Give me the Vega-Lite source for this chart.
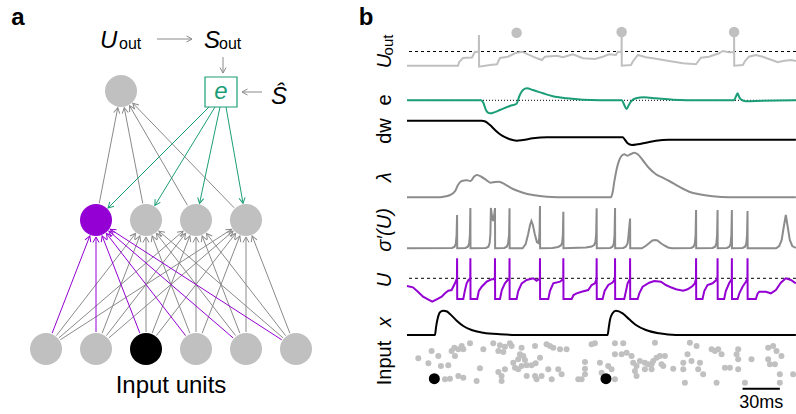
{
"$schema":"https://vega.github.io/schema/vega-lite/v6.json",
"padding":0,
"background":"white",
"spacing":0,
"bounds":"flush",
"config":{"view":{"stroke":null},"axis":{"disable":true},"legend":{"disable":true},"font":"Liberation Sans"},
"datasets":{
"nodes":[{"x":121,"y":91,"state":"idle"},{"x":96,"y":220,"state":"focus"},{"x":146,"y":220,"state":"idle"},{"x":196,"y":220,"state":"idle"},{"x":246,"y":220,"state":"idle"},{"x":46,"y":349,"state":"idle"},{"x":96,"y":349,"state":"idle"},{"x":146,"y":349,"state":"active"},{"x":196,"y":349,"state":"idle"},{"x":246,"y":349,"state":"idle"},{"x":296,"y":349,"state":"idle"}],
"edges":[
{"x1":96,"y1":220,"x2":121,"y2":91,"type":"plain"},{"x1":146,"y1":220,"x2":121,"y2":91,"type":"plain"},{"x1":196,"y1":220,"x2":121,"y2":91,"type":"plain"},{"x1":246,"y1":220,"x2":121,"y2":91,"type":"plain"},
{"x1":46,"y1":349,"x2":146,"y2":220,"type":"plain"},{"x1":46,"y1":349,"x2":196,"y2":220,"type":"plain"},{"x1":46,"y1":349,"x2":246,"y2":220,"type":"plain"},
{"x1":96,"y1":349,"x2":146,"y2":220,"type":"plain"},{"x1":96,"y1":349,"x2":196,"y2":220,"type":"plain"},{"x1":96,"y1":349,"x2":246,"y2":220,"type":"plain"},
{"x1":146,"y1":349,"x2":146,"y2":220,"type":"plain"},{"x1":146,"y1":349,"x2":196,"y2":220,"type":"plain"},{"x1":146,"y1":349,"x2":246,"y2":220,"type":"plain"},
{"x1":196,"y1":349,"x2":146,"y2":220,"type":"plain"},{"x1":196,"y1":349,"x2":196,"y2":220,"type":"plain"},{"x1":196,"y1":349,"x2":246,"y2":220,"type":"plain"},
{"x1":246,"y1":349,"x2":146,"y2":220,"type":"plain"},{"x1":246,"y1":349,"x2":196,"y2":220,"type":"plain"},{"x1":246,"y1":349,"x2":246,"y2":220,"type":"plain"},
{"x1":296,"y1":349,"x2":146,"y2":220,"type":"plain"},{"x1":296,"y1":349,"x2":196,"y2":220,"type":"plain"},{"x1":296,"y1":349,"x2":246,"y2":220,"type":"plain"},
{"x1":46,"y1":349,"x2":96,"y2":220,"type":"focus"},{"x1":96,"y1":349,"x2":96,"y2":220,"type":"focus"},{"x1":146,"y1":349,"x2":96,"y2":220,"type":"focus"},{"x1":196,"y1":349,"x2":96,"y2":220,"type":"focus"},{"x1":246,"y1":349,"x2":96,"y2":220,"type":"focus"},{"x1":296,"y1":349,"x2":96,"y2":220,"type":"focus"},
{"x1":209,"y1":107,"x2":96,"y2":220,"type":"error"},{"x1":215,"y1":107,"x2":146,"y2":220,"type":"error"},{"x1":220,"y1":107,"x2":196,"y2":220,"type":"error"},{"x1":226,"y1":107,"x2":246,"y2":220,"type":"error"},
{"x1":157,"y1":39,"x2":192,"y2":39,"type":"annot"},{"x1":223,"y1":57,"x2":223,"y2":73,"type":"annot"},{"x1":262,"y1":92,"x2":242,"y2":92,"type":"annot"}],
"box":[{"x":205,"y":77,"x2":237,"y2":107}],
"texts":[
{"role":"panel","x":18,"y":18,"text":"a"},{"role":"panel","x":366,"y":18,"text":"b"},
{"role":"math","x":100,"y":48,"text":"U"},{"role":"sub","x":119,"y":49,"text":"out"},
{"role":"math","x":204,"y":48,"text":"S"},{"role":"sub","x":219,"y":49,"text":"out"},
{"role":"math","x":271,"y":104,"text":"Ŝ"},
{"role":"err","x":221,"y":99,"text":"e"},
{"role":"caption","x":171,"y":393,"text":"Input units"},
{"role":"rot","x":385,"y":100,"text":"e"},{"role":"rot","x":385,"y":131,"text":"dw"},{"role":"rot","x":385,"y":363,"text":"Input"},
{"role":"rotMath","x":385,"y":61,"text":"U"},{"role":"rotMath","x":385,"y":177,"text":"λ"},{"role":"rotMath","x":385,"y":230,"text":"σ′(U)"},{"role":"rotMath","x":385,"y":280,"text":"U"},{"role":"rotMath","x":385,"y":322,"text":"x"},
{"role":"rotSub","x":388,"y":45,"text":"out"}],
"uout":[{"t":0,"v":4.3},{"t":41,"v":4.3},{"t":42,"v":8},{"t":45,"v":12},{"t":52.3,"v":12.5},{"t":54.7,"v":18.3},{"t":57.8,"v":18},{"t":57.9,"v":35},{"t":58,"v":3.3},{"t":66.8,"v":5},{"t":72.4,"v":5.7},{"t":74.8,"v":12},{"t":81.2,"v":13.3},{"t":86.9,"v":16.7},{"t":92.5,"v":18.3},{"t":104.6,"v":11.7},{"t":108.6,"v":10},{"t":111,"v":13.3},{"t":120.6,"v":14.3},{"t":125.5,"v":12.7},{"t":129.5,"v":14.3},{"t":133.5,"v":15.7},{"t":141.6,"v":11.7},{"t":151.2,"v":11},{"t":157.6,"v":13.3},{"t":162.5,"v":15.7},{"t":168.1,"v":15},{"t":169.7,"v":18.3},{"t":172.6,"v":18},{"t":172.7,"v":37},{"t":172.8,"v":4.3},{"t":180.2,"v":5},{"t":182,"v":9},{"t":185.8,"v":15},{"t":192.3,"v":12.7},{"t":197.9,"v":11.7},{"t":210.8,"v":9},{"t":222.1,"v":6.7},{"t":232.5,"v":5.7},{"t":236.5,"v":12.3},{"t":243,"v":13.3},{"t":247,"v":15},{"t":251,"v":16.7},{"t":254.2,"v":19},{"t":259,"v":17.7},{"t":263.1,"v":18},{"t":263.2,"v":37},{"t":263.3,"v":4.3},{"t":270.2,"v":5},{"t":272,"v":9},{"t":275.1,"v":13.3},{"t":280.7,"v":15},{"t":286.3,"v":13.3},{"t":291.2,"v":11},{"t":298.4,"v":7.7},{"t":302.4,"v":9},{"t":308.9,"v":10},{"t":312.9,"v":9}],
"uoutDots":[{"t":88.2,"v":37.3},{"t":172.7,"v":38},{"t":263.2,"v":38}],
"err":[{"t":0,"v":16.7},{"t":59.5,"v":16.7},{"t":61.5,"v":14},{"t":63.5,"v":7},{"t":65.5,"v":4.2},{"t":67.3,"v":3.7},{"t":70,"v":4.6},{"t":74.8,"v":7},{"t":82.8,"v":11},{"t":88.2,"v":13.3},{"t":90.1,"v":20},{"t":93.3,"v":27},{"t":96.5,"v":28.7},{"t":101.3,"v":27},{"t":109.4,"v":23.7},{"t":117.4,"v":20.7},{"t":128.7,"v":18.7},{"t":141.6,"v":17.3},{"t":155.2,"v":16.8},{"t":172.9,"v":16.7},{"t":174.5,"v":13},{"t":176.7,"v":8},{"t":178.5,"v":12},{"t":180.2,"v":15.3},{"t":184.2,"v":18.7},{"t":190.7,"v":19.7},{"t":200.3,"v":18.7},{"t":214,"v":17.3},{"t":235.7,"v":16.7},{"t":263,"v":16.7},{"t":264.5,"v":20},{"t":266,"v":23.7},{"t":267.3,"v":20},{"t":268.6,"v":17.7},{"t":272.7,"v":15.7},{"t":286.3,"v":16.3},{"t":312.9,"v":16.7}],
"dw":[{"t":0,"v":27.3},{"t":60.1,"v":27.3},{"t":63,"v":26.5},{"t":66.8,"v":23},{"t":70.8,"v":18},{"t":74.8,"v":13.7},{"t":78.8,"v":10.8},{"t":82.8,"v":8.7},{"t":88.2,"v":7.3},{"t":93.3,"v":8},{"t":101.3,"v":9.7},{"t":112.6,"v":10.7},{"t":173.5,"v":10.7},{"t":175.5,"v":8},{"t":177.5,"v":4.7},{"t":181,"v":3},{"t":185.6,"v":3.7},{"t":192.2,"v":5.3},{"t":200.3,"v":7.3},{"t":210.7,"v":8.3},{"t":312.9,"v":8.3}],
"lambda":[{"t":0,"v":2.7},{"t":26.5,"v":2.7},{"t":30.6,"v":3.5},{"t":34.6,"v":5},{"t":38.6,"v":8.7},{"t":41,"v":15},{"t":44,"v":19},{"t":48,"v":19.7},{"t":51.2,"v":19},{"t":53.9,"v":23.3},{"t":56.3,"v":25},{"t":60.1,"v":23},{"t":64.1,"v":19.7},{"t":67.3,"v":17.3},{"t":70.8,"v":18},{"t":74,"v":18.3},{"t":78.8,"v":15.7},{"t":85.3,"v":11},{"t":93.3,"v":7.3},{"t":101.3,"v":5},{"t":112.6,"v":3.3},{"t":128.7,"v":2.7},{"t":164.1,"v":2.7},{"t":165.5,"v":8},{"t":166.8,"v":18.3},{"t":169.5,"v":35},{"t":172.1,"v":43.3},{"t":174.8,"v":45.7},{"t":177.5,"v":44.3},{"t":180.2,"v":46},{"t":182.8,"v":47.3},{"t":185.6,"v":45.7},{"t":189.6,"v":40},{"t":194.9,"v":31.7},{"t":200.3,"v":25.7},{"t":205.7,"v":22.3},{"t":211,"v":19},{"t":219,"v":13.3},{"t":227.1,"v":8.3},{"t":235.1,"v":5.7},{"t":245.9,"v":3.7},{"t":259,"v":2.7},{"t":312.9,"v":2.7}],
"sigma":[{"t":0,"v":3.7},{"t":36.3,"v":4},{"t":38.3,"v":5.3},{"t":39.3,"v":8.5},{"t":39.9,"v":17},{"t":40.3,"v":37},{"t":40.4,"v":3.7},{"t":47,"v":4},{"t":49,"v":5.3},{"t":50,"v":8.5},{"t":50.6,"v":17},{"t":51,"v":44},{"t":51.1,"v":3.7},{"t":63.5,"v":4},{"t":65.5,"v":5.3},{"t":66.5,"v":9},{"t":67.1,"v":18},{"t":67.5,"v":44},{"t":68.6,"v":34},{"t":69.2,"v":31},{"t":70.1,"v":36},{"t":70.8,"v":44},{"t":70.9,"v":3.7},{"t":78.3,"v":4},{"t":80.3,"v":5.3},{"t":81.3,"v":8.5},{"t":82.1,"v":17},{"t":82.5,"v":43.7},{"t":82.6,"v":3.7},{"t":93,"v":3.7},{"t":95.5,"v":8},{"t":97.5,"v":18},{"t":99,"v":27},{"t":100.1,"v":31},{"t":101.3,"v":27},{"t":102.8,"v":18},{"t":104.5,"v":10},{"t":105.8,"v":9},{"t":106.4,"v":14},{"t":106.7,"v":22},{"t":107,"v":46},{"t":107.1,"v":3.7},{"t":117,"v":4},{"t":121.6,"v":5},{"t":123.8,"v":6.5},{"t":124.8,"v":9},{"t":125.4,"v":17},{"t":125.8,"v":40.3},{"t":125.9,"v":3.7},{"t":144,"v":4.5},{"t":148.6,"v":5.5},{"t":150.6,"v":7},{"t":151.6,"v":10},{"t":152.2,"v":18},{"t":152.6,"v":43.7},{"t":152.7,"v":3.7},{"t":163.4,"v":4},{"t":165.4,"v":5.3},{"t":166.4,"v":8.5},{"t":167,"v":17},{"t":167.4,"v":44},{"t":167.5,"v":3.7},{"t":174,"v":4},{"t":176,"v":5.3},{"t":177.5,"v":8.5},{"t":178.1,"v":15},{"t":179.5,"v":33.5},{"t":179.6,"v":3.7},{"t":189,"v":3.7},{"t":192,"v":6},{"t":195,"v":9},{"t":197.5,"v":11.5},{"t":199.5,"v":12},{"t":201.5,"v":11.5},{"t":204,"v":9},{"t":207,"v":6.5},{"t":210,"v":4.5},{"t":213,"v":3.7},{"t":228.6,"v":4},{"t":230.6,"v":5.3},{"t":231.6,"v":8.5},{"t":232.2,"v":17},{"t":232.6,"v":42},{"t":232.7,"v":3.7},{"t":245.9,"v":4},{"t":247.9,"v":5.3},{"t":248.9,"v":8.5},{"t":249.5,"v":17},{"t":249.9,"v":42},{"t":250,"v":3.7},{"t":257.4,"v":4},{"t":259.4,"v":5.3},{"t":260.4,"v":8.5},{"t":261,"v":17},{"t":261.4,"v":42},{"t":261.5,"v":3.7},{"t":270,"v":4},{"t":272,"v":5.3},{"t":273,"v":8.5},{"t":273.6,"v":17},{"t":274,"v":41},{"t":274.1,"v":3.7},{"t":297,"v":3.7},{"t":299.5,"v":6},{"t":301.5,"v":12},{"t":303,"v":24},{"t":304.8,"v":37},{"t":306.5,"v":24},{"t":308,"v":12},{"t":310,"v":6},{"t":312.9,"v":4}],
"memb":[{"t":0,"v":17},{"t":4.8,"v":15.7},{"t":8.8,"v":11.3},{"t":12.9,"v":6.3},{"t":16.9,"v":3.7},{"t":20.3,"v":1.3},{"t":23.9,"v":3.7},{"t":27.9,"v":6.3},{"t":30.6,"v":9.7},{"t":33.2,"v":12.3},{"t":35.9,"v":13},{"t":38.6,"v":19.7},{"t":40.2,"v":24.5},{"t":40.3,"v":44.7},{"t":40.4,"v":4},{"t":45.3,"v":4},{"t":46.5,"v":12},{"t":48,"v":19.7},{"t":49.5,"v":23},{"t":50.9,"v":24.5},{"t":51,"v":44.7},{"t":51.1,"v":4},{"t":56.5,"v":4},{"t":57.8,"v":12},{"t":60.1,"v":16.3},{"t":64.1,"v":21.3},{"t":68.1,"v":23.7},{"t":70.7,"v":24},{"t":70.8,"v":44.7},{"t":70.9,"v":4},{"t":74.8,"v":4},{"t":76.3,"v":13},{"t":78.8,"v":19.7},{"t":81,"v":23},{"t":82.4,"v":24.5},{"t":82.5,"v":44.7},{"t":82.6,"v":4},{"t":88.2,"v":4},{"t":89.5,"v":12},{"t":92.3,"v":19.7},{"t":96.3,"v":23},{"t":101.6,"v":24.7},{"t":104.3,"v":22.3},{"t":106.4,"v":24},{"t":106.9,"v":24.5},{"t":107,"v":44.7},{"t":107.1,"v":4},{"t":113.7,"v":4},{"t":115,"v":12},{"t":117.7,"v":19.7},{"t":123.1,"v":21.3},{"t":125.7,"v":24},{"t":125.8,"v":44.7},{"t":125.9,"v":4},{"t":132.5,"v":4},{"t":134,"v":8},{"t":136.5,"v":9.7},{"t":140.5,"v":11.3},{"t":145.8,"v":13},{"t":148.6,"v":18},{"t":151.2,"v":19.7},{"t":152.5,"v":24},{"t":152.6,"v":44.7},{"t":152.7,"v":4},{"t":157.4,"v":4},{"t":159,"v":12},{"t":162,"v":18},{"t":165.4,"v":20.5},{"t":167.3,"v":24},{"t":167.4,"v":44.7},{"t":167.5,"v":4},{"t":174.8,"v":4},{"t":176.2,"v":12},{"t":177.5,"v":19.7},{"t":179.4,"v":24},{"t":179.5,"v":44.7},{"t":179.6,"v":4},{"t":185.6,"v":4},{"t":187,"v":10},{"t":189.6,"v":16.3},{"t":194.9,"v":20.3},{"t":198.9,"v":22},{"t":204.3,"v":21.3},{"t":208.3,"v":18},{"t":212.3,"v":15.7},{"t":216.4,"v":13.7},{"t":222.2,"v":12.3},{"t":225.8,"v":13.7},{"t":229.8,"v":17},{"t":231.6,"v":19.7},{"t":232.5,"v":24},{"t":232.6,"v":44.7},{"t":232.7,"v":4},{"t":237.8,"v":4},{"t":239.2,"v":12},{"t":241.8,"v":18},{"t":245.9,"v":19.7},{"t":249.8,"v":24},{"t":249.9,"v":44.7},{"t":250,"v":4},{"t":255.2,"v":4},{"t":256.5,"v":12},{"t":259.2,"v":19.7},{"t":261.3,"v":24},{"t":261.4,"v":44.7},{"t":261.5,"v":4},{"t":266,"v":4},{"t":267.5,"v":10},{"t":270,"v":16.3},{"t":272.7,"v":21.3},{"t":273.9,"v":24},{"t":274,"v":44.7},{"t":274.1,"v":4},{"t":280.7,"v":4},{"t":282,"v":9},{"t":283.4,"v":11.3},{"t":288.7,"v":11.3},{"t":292.8,"v":9.7},{"t":296.8,"v":13},{"t":300.8,"v":20.3},{"t":304.8,"v":24.7},{"t":308.9,"v":23},{"t":312.9,"v":19.7}],
"trace":[{"t":0,"v":3},{"t":22.5,"v":3},{"t":23.3,"v":10},{"t":24.1,"v":16.3},{"t":26,"v":24.7},{"t":27.3,"v":26.5},{"t":29.2,"v":27.3},{"t":32.2,"v":26.5},{"t":34.6,"v":24},{"t":40,"v":17.3},{"t":45.3,"v":12},{"t":52,"v":8},{"t":61.4,"v":5.3},{"t":74.8,"v":3.7},{"t":88.2,"v":3},{"t":161.4,"v":3},{"t":162.3,"v":10},{"t":163.3,"v":18},{"t":165.4,"v":24.7},{"t":168.1,"v":27.3},{"t":173.5,"v":24.7},{"t":178.8,"v":18.7},{"t":184.2,"v":13},{"t":192.2,"v":8},{"t":202.9,"v":4.7},{"t":216.4,"v":3},{"t":312.9,"v":3}],
"inputs":[{"t":9.1,"v":55.7},{"t":19.8,"v":63},{"t":17.2,"v":50.7},{"t":25.2,"v":58},{"t":27.3,"v":48},{"t":33.2,"v":48.7},{"t":30.6,"v":34.7},{"t":34.6,"v":35.3},{"t":41.3,"v":38},{"t":45.3,"v":36.3},{"t":35.9,"v":63},{"t":38.1,"v":66.3},{"t":38.6,"v":58},{"t":41.3,"v":64.7},{"t":44,"v":68},{"t":45.3,"v":64.7},{"t":50.7,"v":70.7},{"t":58.7,"v":45.7},{"t":56,"v":33},{"t":61.4,"v":64.7},{"t":69.4,"v":70.7},{"t":73.5,"v":63},{"t":74.8,"v":68.7},{"t":77.5,"v":62},{"t":78.8,"v":67.3},{"t":82.8,"v":70.7},{"t":84.2,"v":68},{"t":73.5,"v":42},{"t":76.1,"v":38},{"t":76.1,"v":33},{"t":78.8,"v":44.7},{"t":86.9,"v":46.3},{"t":85.5,"v":51.3},{"t":89.5,"v":54.7},{"t":90.9,"v":59.7},{"t":92.2,"v":66.3},{"t":93.6,"v":58},{"t":94.9,"v":54},{"t":92.2,"v":48},{"t":89.5,"v":44.7},{"t":96.3,"v":48.7},{"t":100.3,"v":48.7},{"t":103.5,"v":50.7},{"t":107,"v":56.3},{"t":103,"v":68},{"t":96.3,"v":38},{"t":103,"v":38},{"t":104.3,"v":34.7},{"t":108.3,"v":38},{"t":113.7,"v":44.7},{"t":116.4,"v":34.7},{"t":121.7,"v":44.7},{"t":124.4,"v":39.7},{"t":112.3,"v":69.7},{"t":115,"v":68},{"t":117.7,"v":66.3},{"t":123.1,"v":64.7},{"t":128.4,"v":64.7},{"t":137.8,"v":34.7},{"t":140.5,"v":34.7},{"t":143.2,"v":52},{"t":143.2,"v":45.3},{"t":143.2,"v":39.7},{"t":148.5,"v":69.7},{"t":151.2,"v":70.7},{"t":155.2,"v":51.3},{"t":156.6,"v":41.3},{"t":161.9,"v":48},{"t":164.6,"v":44.7},{"t":167.3,"v":34.7},{"t":167.3,"v":70.7},{"t":174,"v":70.7},{"t":167.3,"v":59.7},{"t":172.7,"v":59.7},{"t":176.7,"v":61.3},{"t":180.7,"v":58},{"t":182,"v":51.3},{"t":184.7,"v":48},{"t":187.4,"v":53},{"t":191.4,"v":51.3},{"t":194.1,"v":49.7},{"t":196.8,"v":49.7},{"t":198.1,"v":53},{"t":200.8,"v":56.3},{"t":203.5,"v":58},{"t":207.5,"v":58},{"t":206.2,"v":48},{"t":183.4,"v":43},{"t":184.7,"v":38},{"t":191.4,"v":44.7},{"t":196.8,"v":44.7},{"t":199.5,"v":71.3},{"t":204.8,"v":49.7},{"t":214.2,"v":45.3},{"t":222.3,"v":51.3},{"t":222.3,"v":44.7},{"t":223.6,"v":31.3},{"t":225.7,"v":59.7},{"t":227.6,"v":71.3},{"t":228.9,"v":53},{"t":233,"v":68},{"t":234.3,"v":44.7},{"t":235.7,"v":51.3},{"t":238.3,"v":39.7},{"t":245.1,"v":64.7},{"t":247.7,"v":63},{"t":250.4,"v":64.7},{"t":253.1,"v":59.7},{"t":249.1,"v":31.3},{"t":255.8,"v":46.3},{"t":259.8,"v":46.3},{"t":266.5,"v":64.7},{"t":265.2,"v":59.7},{"t":266.5,"v":54.7},{"t":266.5,"v":44.7},{"t":271.9,"v":31.3},{"t":277.2,"v":54.7},{"t":290.6,"v":66.3},{"t":294.6,"v":68},{"t":297.3,"v":63},{"t":290.6,"v":54.7},{"t":292,"v":49.7},{"t":296,"v":49.7},{"t":301.3,"v":58},{"t":300,"v":39.7},{"t":300,"v":31.3},{"t":310.7,"v":39.7}],
"inputFocus":[{"t":22,"v":35.3},{"t":160.1,"v":35.3}],
"scalebar":[{"t0":270,"t1":300,"label":"30ms"}]
},
"hconcat":[
{
"width":407,"height":414,
"resolve":{"scale":{"color":"independent"}},
"layer":[
{"data":{"name":"edges"},
 "transform":[
  {"calculate":"datum.x2 - datum.x1","as":"dx"},
  {"calculate":"datum.y2 - datum.y1","as":"dy"},
  {"calculate":"sqrt(datum.dx*datum.dx + datum.dy*datum.dy)","as":"len"},
  {"calculate":"datum.type == 'error' || datum.type == 'annot' ? 0 : 17","as":"trimA"},
  {"calculate":"datum.type == 'annot' ? 0 : 17","as":"trimB"},
  {"calculate":"datum.x1 + datum.dx*datum.trimA/datum.len","as":"xa"},
  {"calculate":"datum.y1 + datum.dy*datum.trimA/datum.len","as":"ya"},
  {"calculate":"datum.x2 - datum.dx*datum.trimB/datum.len","as":"xb"},
  {"calculate":"datum.y2 - datum.dy*datum.trimB/datum.len","as":"yb"},
  {"calculate":"atan2(datum.dx, -datum.dy)*180/PI","as":"ang"}
 ],
 "layer":[
  {"mark":{"type":"rule","strokeWidth":1},
   "encoding":{
    "x":{"field":"xa","type":"quantitative","scale":{"domain":[0,407],"nice":false,"zero":false}},
    "y":{"field":"ya","type":"quantitative","scale":{"domain":[0,414],"reverse":true,"nice":false,"zero":false}},
    "x2":{"field":"xb"},"y2":{"field":"yb"},
    "color":{"field":"type","type":"nominal","scale":{"domain":["plain","focus","error","annot"],"range":["#8a8a8a","#9400d3","#1b9e77","#8a8a8a"]}}}},
  {"mark":{"type":"point","shape":"M-0.5,0.9L0,0L0.5,0.9","filled":false,"size":150,"strokeWidth":1,"opacity":1},
   "encoding":{
    "x":{"field":"xb","type":"quantitative","scale":{"domain":[0,407],"nice":false,"zero":false}},
    "y":{"field":"yb","type":"quantitative","scale":{"domain":[0,414],"reverse":true,"nice":false,"zero":false}},
    "angle":{"field":"ang","type":"quantitative","scale":null},
    "color":{"field":"type","type":"nominal","scale":{"domain":["plain","focus","error","annot"],"range":["#8a8a8a","#9400d3","#1b9e77","#8a8a8a"]}}}}
 ]},
{"data":{"name":"box"},"mark":{"type":"rect","fill":"white","stroke":"#1b9e77","strokeWidth":1.2},
 "encoding":{"x":{"field":"x","type":"quantitative","scale":{"domain":[0,407],"nice":false,"zero":false}},"y":{"field":"y","type":"quantitative","scale":{"domain":[0,414],"reverse":true,"nice":false,"zero":false}},"x2":{"field":"x2"},"y2":{"field":"y2"}}},
{"data":{"name":"nodes"},"mark":{"type":"circle","size":1024,"opacity":1},
 "encoding":{"x":{"field":"x","type":"quantitative","scale":{"domain":[0,407],"nice":false,"zero":false}},"y":{"field":"y","type":"quantitative","scale":{"domain":[0,414],"reverse":true,"nice":false,"zero":false}},
 "color":{"field":"state","type":"nominal","scale":{"domain":["idle","focus","active"],"range":["#c0c0c0","#9400d3","#000000"]}}}},
{"data":{"name":"texts"},"transform":[{"filter":"datum.role == 'panel'"}],"mark":{"type":"text","fontSize":24,"fontWeight":"bold","align":"center","baseline":"middle","color":"black"},
 "encoding":{"x":{"field":"x","type":"quantitative"},"y":{"field":"y","type":"quantitative"},"text":{"field":"text"}}},
{"data":{"name":"texts"},"transform":[{"filter":"datum.role == 'math'"}],"mark":{"type":"text","fontSize":24,"fontStyle":"italic","align":"left","baseline":"alphabetic","color":"black"},
 "encoding":{"x":{"field":"x","type":"quantitative"},"y":{"field":"y","type":"quantitative"},"text":{"field":"text"}}},
{"data":{"name":"texts"},"transform":[{"filter":"datum.role == 'sub'"}],"mark":{"type":"text","fontSize":16,"align":"left","baseline":"alphabetic","color":"black"},
 "encoding":{"x":{"field":"x","type":"quantitative"},"y":{"field":"y","type":"quantitative"},"text":{"field":"text"}}},
{"data":{"name":"texts"},"transform":[{"filter":"datum.role == 'err'"}],"mark":{"type":"text","fontSize":24,"fontStyle":"italic","align":"center","baseline":"alphabetic","color":"#1b9e77"},
 "encoding":{"x":{"field":"x","type":"quantitative"},"y":{"field":"y","type":"quantitative"},"text":{"field":"text"}}},
{"data":{"name":"texts"},"transform":[{"filter":"datum.role == 'caption'"}],"mark":{"type":"text","fontSize":24,"align":"center","baseline":"alphabetic","color":"black"},
 "encoding":{"x":{"field":"x","type":"quantitative"},"y":{"field":"y","type":"quantitative"},"text":{"field":"text"}}},
{"data":{"name":"texts"},"transform":[{"filter":"datum.role == 'rot'"}],"mark":{"type":"text","fontSize":20,"angle":270,"align":"center","baseline":"middle","color":"black"},
 "encoding":{"x":{"field":"x","type":"quantitative"},"y":{"field":"y","type":"quantitative"},"text":{"field":"text"}}},
{"data":{"name":"texts"},"transform":[{"filter":"datum.role == 'rotMath'"}],"mark":{"type":"text","fontSize":20,"fontStyle":"italic","angle":270,"align":"center","baseline":"middle","color":"black"},
 "encoding":{"x":{"field":"x","type":"quantitative"},"y":{"field":"y","type":"quantitative"},"text":{"field":"text"}}},
{"data":{"name":"texts"},"transform":[{"filter":"datum.role == 'rotSub'"}],"mark":{"type":"text","fontSize":15,"angle":270,"align":"center","baseline":"middle","color":"black"},
 "encoding":{"x":{"field":"x","type":"quantitative"},"y":{"field":"y","type":"quantitative"},"text":{"field":"text"}}}
]
},
{
"vconcat":[
{"width":389,"height":70,"layer":[
 {"data":{"values":[{}]},"mark":{"type":"rule","color":"black","strokeWidth":1,"strokeDash":[3,3]},"encoding":{"y":{"datum":18.5,"type":"quantitative","scale":{"domain":[0,70],"nice":false,"zero":false}}}},
 {"data":{"name":"uout"},"mark":{"type":"line","color":"#c0c0c0","strokeWidth":2},"encoding":{"x":{"field":"t","type":"quantitative","scale":{"domain":[0,313],"nice":false,"zero":false}},"y":{"field":"v","type":"quantitative","scale":{"domain":[0,70],"nice":false,"zero":false}}}},
 {"data":{"name":"uoutDots"},"mark":{"type":"circle","color":"#c0c0c0","size":110,"opacity":1},"encoding":{"x":{"field":"t","type":"quantitative"},"y":{"field":"v","type":"quantitative"}}}
]},
{"width":389,"height":47,"layer":[
 {"data":{"values":[{}]},"mark":{"type":"rule","color":"black","strokeWidth":1,"strokeDash":[1,2]},"encoding":{"y":{"datum":16.7,"type":"quantitative","scale":{"domain":[0,47],"nice":false,"zero":false}}}},
 {"data":{"name":"err"},"mark":{"type":"line","color":"#1b9e77","strokeWidth":2,"interpolate":"monotone"},"encoding":{"x":{"field":"t","type":"quantitative","scale":{"domain":[0,313],"nice":false,"zero":false}},"y":{"field":"v","type":"quantitative","scale":{"domain":[0,47],"nice":false,"zero":false}}}}
]},
{"width":389,"height":31,"data":{"name":"dw"},"mark":{"type":"line","color":"black","strokeWidth":2,"interpolate":"monotone"},"encoding":{"x":{"field":"t","type":"quantitative","scale":{"domain":[0,313],"nice":false,"zero":false}},"y":{"field":"v","type":"quantitative","scale":{"domain":[0,31],"nice":false,"zero":false}}}},
{"width":389,"height":52,"data":{"name":"lambda"},"mark":{"type":"line","color":"#8c8c8c","strokeWidth":2,"interpolate":"monotone"},"encoding":{"x":{"field":"t","type":"quantitative","scale":{"domain":[0,313],"nice":false,"zero":false}},"y":{"field":"v","type":"quantitative","scale":{"domain":[0,52],"nice":false,"zero":false}}}},
{"width":389,"height":52,"data":{"name":"sigma"},"mark":{"type":"line","color":"#8c8c8c","strokeWidth":2},"encoding":{"x":{"field":"t","type":"quantitative","scale":{"domain":[0,313],"nice":false,"zero":false}},"y":{"field":"v","type":"quantitative","scale":{"domain":[0,52],"nice":false,"zero":false}}}},
{"width":389,"height":51,"layer":[
 {"data":{"values":[{}]},"mark":{"type":"rule","color":"black","strokeWidth":1,"strokeDash":[3,3]},"encoding":{"y":{"datum":24.7,"type":"quantitative","scale":{"domain":[0,51],"nice":false,"zero":false}}}},
 {"data":{"name":"memb"},"mark":{"type":"line","color":"#9400d3","strokeWidth":2},"encoding":{"x":{"field":"t","type":"quantitative","scale":{"domain":[0,313],"nice":false,"zero":false}},"y":{"field":"v","type":"quantitative","scale":{"domain":[0,51],"nice":false,"zero":false}}}}
]},
{"width":389,"height":35,"data":{"name":"trace"},"mark":{"type":"line","color":"black","strokeWidth":2,"interpolate":"monotone"},"encoding":{"x":{"field":"t","type":"quantitative","scale":{"domain":[0,313],"nice":false,"zero":false}},"y":{"field":"v","type":"quantitative","scale":{"domain":[0,35],"nice":false,"zero":false}}}},
{"width":389,"height":76,"layer":[
 {"data":{"name":"inputs"},"mark":{"type":"circle","color":"#c0c0c0","size":36,"opacity":1},"encoding":{"x":{"field":"t","type":"quantitative","scale":{"domain":[0,313],"nice":false,"zero":false}},"y":{"field":"v","type":"quantitative","scale":{"domain":[0,76],"nice":false,"zero":false}}}},
 {"data":{"name":"inputFocus"},"mark":{"type":"circle","color":"black","size":121,"opacity":1},"encoding":{"x":{"field":"t","type":"quantitative"},"y":{"field":"v","type":"quantitative"}}},
 {"data":{"name":"scalebar"},"mark":{"type":"rule","color":"black","strokeWidth":2},"encoding":{"x":{"field":"t0","type":"quantitative"},"x2":{"field":"t1"},"y":{"datum":25.3,"type":"quantitative"}}},
 {"data":{"name":"scalebar"},"transform":[{"calculate":"(datum.t0 + datum.t1)/2","as":"tm"}],"mark":{"type":"text","fontSize":18,"align":"center","baseline":"middle","color":"black"},"encoding":{"x":{"field":"tm","type":"quantitative"},"y":{"datum":11,"type":"quantitative"},"text":{"field":"label"}}}
]}
],
"spacing":0,
"bounds":"flush"
}
]
}
